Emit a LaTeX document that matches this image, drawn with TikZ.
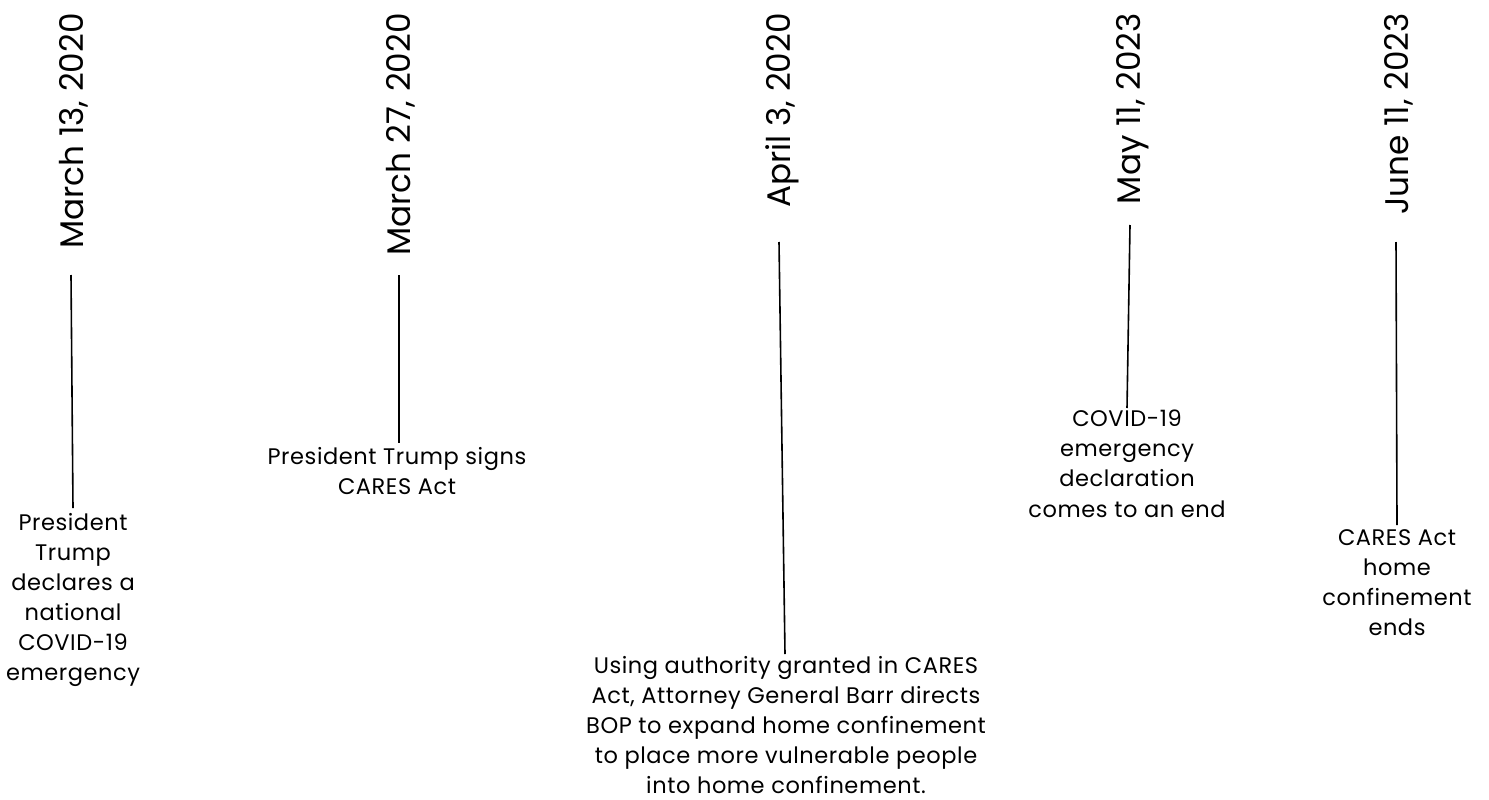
\documentclass[tikz,border=0pt]{standalone}
\usepackage{fontspec}
\setmainfont{Poppins}
\newfontfamily\evfont[LetterSpace=2.5]{Poppins}
\begin{document}
\begin{tikzpicture}[x=1bp,y=-1bp,
  datelbl/.style={rotate=90,anchor=base east,inner sep=0pt,font=\fontsize{32.8}{33}\selectfont},
  eventlbl/.style={anchor=north,inner sep=0pt,align=center,font=\evfont\fontsize{22.6}{30.2}\selectfont},
  conn/.style={line width=1.6bp,black}]
\useasboundingbox (0,0) rectangle (1489,799);
% dates
\node[datelbl] (d1) at (83,13) {March 13, 2020};
\node[datelbl] (d2) at (410,13) {March 27, 2020};
\node[datelbl] (d3) at (790,13) {April 3, 2020};
\node[datelbl] (d4) at (1140,13) {May 11, 2023};
\node[datelbl] (d5) at (1408,13) {June 11, 2023};
% events
\node[eventlbl] (e1) at (73,513) {President\\Trump\\declares a\\national\\COVID-19\\emergency};
\node[eventlbl] (e2) at (397,447) {President Trump signs\\CARES Act};
\node[eventlbl,text depth=0pt] (e3) at (786,656) {Using authority granted in CARES\\Act, Attorney General Barr directs\\BOP to expand home confinement\\to place more vulnerable people\\into home confinement.};
\node[eventlbl] (e4) at (1127,410) {COVID-19\\emergency\\declaration\\comes to an end};
\node[eventlbl] (e5) at (1397,529) {CARES Act\\home\\confinement\\ends};
% connector ends
\coordinate (t1) at (71,275);  \coordinate (b1) at (73,508);
\coordinate (t2) at (399,275); \coordinate (b2) at (399,443);
\coordinate (t3) at (779,242); \coordinate (b3) at (785,654);
\coordinate (t4) at (1130,225); \coordinate (b4) at (1127,408);
\coordinate (t5) at (1396,242); \coordinate (b5) at (1397,525);
\draw[conn] (t1) -- (b1);
\draw[conn] (t2) -- (b2);
\draw[conn] (t3) -- (b3);
\draw[conn] (t4) -- (b4);
\draw[conn] (t5) -- (b5);
\end{tikzpicture}
\end{document}
